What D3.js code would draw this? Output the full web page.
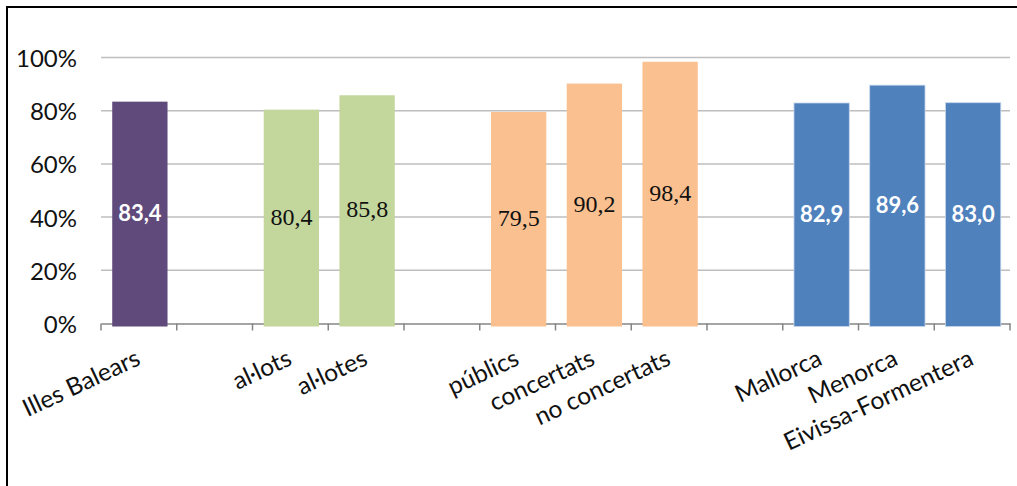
<!DOCTYPE html>
<html>
<head>
<meta charset="utf-8">
<script src="https://cdn.jsdelivr.net/npm/d3@7"></script>
<style>
  html, body { margin: 0; padding: 0; background: #fff; }
  svg { display: block; }
</style>
</head>
<body>
<svg id="chart" width="1017" height="486"></svg>
<script>
// ---- data ----
const categories = ["Illes Balears", "al·lots", "al·lotes", "públics", "concertats", "no concertats", "Mallorca", "Menorca", "Eivissa-Formentera"];
const values = [83.4, 80.4, 85.8, 79.5, 90.2, 98.4, 82.9, 89.6, 83.0];
const groupIndex = [0, 1, 1, 2, 2, 2, 3, 3, 3];
const yTickValues = [0, 20, 40, 60, 80, 100];

// ---- styles ----
const groupColors = ["#604A7B", "#C3D69B", "#FAC090", "#4F81BD"];
const labelColors = ["#ffffff", "#111111", "#111111", "#ffffff"];
const labelBold = [true, false, false, true];

// build slots with empty gaps between groups
const slots = [];
categories.forEach((c, i) => {
  if (i > 0 && groupIndex[i] !== groupIndex[i - 1]) slots.push("__gap" + i);
  slots.push(c);
});

const svg = d3.select("#chart");
const W = 1017, H = 486;
const plot = { left: 101, right: 1010, top: 4, bottom: 323.5 };

svg.append("rect")
  .attr("x", 7).attr("y", 7).attr("width", W + 20).attr("height", H + 20)
  .attr("fill", "none").attr("stroke", "#000").attr("stroke-width", 2);

const xSlots = d3.scaleBand().domain(slots).range([plot.left, plot.right]).padding(0);
const x = d3.scaleBand().domain(slots).range([plot.left, plot.right])
  .paddingInner(0.27).paddingOuter(0.135);
const y = d3.scaleLinear().domain([0, 100]).range([plot.bottom, 57.5]);

// gridlines
svg.append("g")
  .selectAll("line")
  .data(yTickValues.filter(d => d > 0))
  .join("line")
  .attr("x1", plot.left).attr("x2", plot.right)
  .attr("y1", d => y(d)).attr("y2", d => y(d))
  .attr("stroke", "#BEBEBE").attr("stroke-width", 1.5);

// y tick labels
svg.append("g")
  .selectAll("text")
  .data(yTickValues)
  .join("text")
  .attr("x", 77).attr("y", d => y(d))
  .attr("text-anchor", "end")
  .attr("dominant-baseline", "central")
  .attr("font-family", "Lato, 'Open Sans', sans-serif")
  .attr("font-size", 24)
  .attr("fill", "#111")
  .text(d => d + "%");

// x axis line and ticks
const axisG = svg.append("g").attr("transform", `translate(0,${plot.bottom})`);
const xAxis = d3.axisBottom(xSlots).tickSize(0).tickFormat("");
axisG.call(xAxis);
axisG.select(".domain").attr("stroke", "#868686").attr("stroke-width", 1.5);
const boundaries = slots.map(s => xSlots(s)).concat([plot.right]);
axisG.selectAll("line.tk")
  .data(boundaries)
  .join("line")
  .attr("class", "tk")
  .attr("x1", d => d).attr("x2", d => d)
  .attr("y1", 0).attr("y2", 7)
  .attr("stroke", "#868686").attr("stroke-width", 1.5);

// bars
const barData = categories.map((c, i) => ({ c, v: values[i], g: groupIndex[i] }));
svg.append("g")
  .selectAll("rect")
  .data(barData)
  .join("rect")
  .attr("x", d => x(d.c) + 1)
  .attr("width", x.bandwidth())
  .attr("y", d => y(d.v))
  .attr("height", d => y(0) - y(d.v) + 3)
  .attr("fill", d => groupColors[d.g])
  .attr("stroke", d => d.g === 3 ? "#C6D6EA" : "none")
  .attr("stroke-width", 0.8);

// value labels
const fmt = v => d3.format(".1f")(v).replace(".", ",");
svg.append("g")
  .selectAll("text")
  .data(barData)
  .join("text")
  .attr("x", d => x(d.c) + 1 + x.bandwidth() / 2)
  .attr("y", d => (y(d.v) + y(0)) / 2)
  .attr("text-anchor", "middle")
  .attr("dominant-baseline", "central")
  .attr("font-family", d => labelBold[d.g] ? "Lato, sans-serif" : "'Liberation Serif', serif")
  .attr("font-weight", d => labelBold[d.g] ? "bold" : "normal")
  .attr("font-size", d => labelBold[d.g] ? 22 : 24)
  .attr("fill", d => labelColors[d.g])
  .text(d => fmt(d.v));

// category labels
svg.append("g")
  .selectAll("text")
  .data(categories)
  .join("text")
  .attr("transform", d => `translate(${xSlots(d) + xSlots.bandwidth() / 2 + 3},364) rotate(-25)`)
  .attr("text-anchor", "end")
  .attr("font-family", "Lato, 'Open Sans', sans-serif")
  .attr("font-size", 24.5)
  .attr("fill", "#111")
  .text(d => d);
</script>
</body>
</html>
